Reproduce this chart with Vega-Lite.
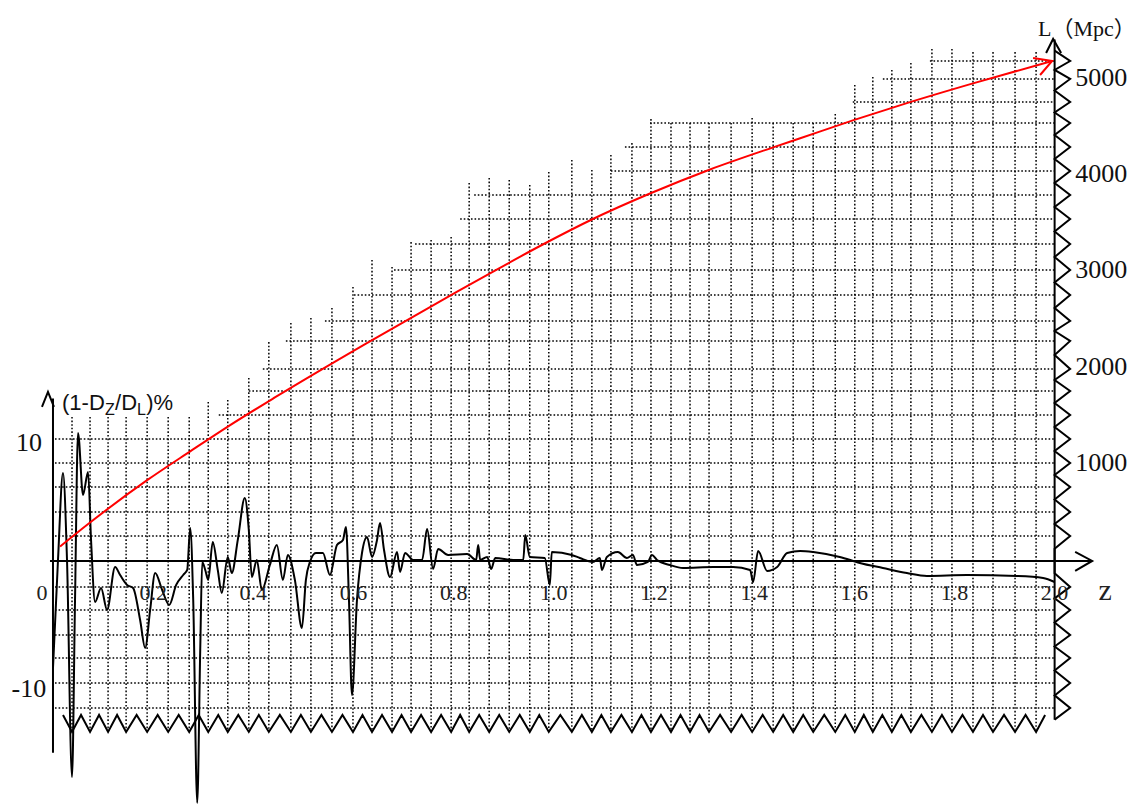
{
"$schema": "https://vega.github.io/schema/vega-lite/v6.json",
"width": 1135, "height": 804, "autosize": "none", "padding": 0,
"background": "white",
"config": {"view": {"stroke": null}},
"datasets": {
"vgrid": [{"z":0.038,"top":11.71},{"z":0.074,"top":11.71},{"z":0.110,"top":11.71},{"z":0.146,"top":11.71},{"z":0.188,"top":11.71},{"z":0.230,"top":11.71},{"z":0.272,"top":11.71},{"z":0.310,"top":12.93},{"z":0.349,"top":13.09},{"z":0.391,"top":14.88},{"z":0.431,"top":17.80},{"z":0.475,"top":19.35},{"z":0.515,"top":19.76},{"z":0.557,"top":20.57},{"z":0.599,"top":22.28},{"z":0.637,"top":24.47},{"z":0.677,"top":23.90},{"z":0.715,"top":25.93},{"z":0.755,"top":26.10},{"z":0.795,"top":26.34},{"z":0.831,"top":30.73},{"z":0.871,"top":31.14},{"z":0.911,"top":30.98},{"z":0.952,"top":30.57},{"z":0.990,"top":31.63},{"z":1.036,"top":32.60},{"z":1.076,"top":31.79},{"z":1.114,"top":33.01},{"z":1.156,"top":33.98},{"z":1.194,"top":35.93},{"z":1.234,"top":35.61},{"z":1.272,"top":35.61},{"z":1.310,"top":35.61},{"z":1.354,"top":35.61},{"z":1.396,"top":36.02},{"z":1.438,"top":35.61},{"z":1.478,"top":35.61},{"z":1.518,"top":35.61},{"z":1.562,"top":36.34},{"z":1.601,"top":38.70},{"z":1.637,"top":39.35},{"z":1.675,"top":39.92},{"z":1.713,"top":40.49},{"z":1.755,"top":41.63},{"z":1.795,"top":41.63},{"z":1.837,"top":41.38},{"z":1.877,"top":41.38},{"z":1.921,"top":41.38},{"z":1.963,"top":41.38}],
"hgrid": [{"z":1.751,"v":40.65},{"z":1.657,"v":39.19},{"z":1.597,"v":37.32},{"z":1.192,"v":35.61},{"z":1.142,"v":33.66},{"z":1.114,"v":31.71},{"z":0.841,"v":29.76},{"z":0.813,"v":27.80},{"z":0.723,"v":25.77},{"z":0.681,"v":23.66},{"z":0.601,"v":21.63},{"z":0.543,"v":19.51},{"z":0.465,"v":17.89},{"z":0.419,"v":15.61},{"z":0.391,"v":13.82},{"z":0.331,"v":11.87},{"z":0.004,"v":9.92},{"z":0.004,"v":7.97},{"z":0.004,"v":6.02},{"z":0.004,"v":3.98},{"z":0.004,"v":2.03},{"z":0.004,"v":-2.11},{"z":0.004,"v":-3.98},{"z":0.004,"v":-6.02},{"z":0.004,"v":-7.89},{"z":0.004,"v":-9.92},{"z":0.004,"v":-11.95}],
"zigB": [{"z":0.020,"v":-12.52},{"z":0.038,"v":-13.9},{"z":0.056,"v":-12.52},{"z":0.074,"v":-13.9},{"z":0.092,"v":-12.52},{"z":0.110,"v":-13.9},{"z":0.128,"v":-12.52},{"z":0.146,"v":-13.9},{"z":0.167,"v":-12.52},{"z":0.188,"v":-13.9},{"z":0.209,"v":-12.52},{"z":0.230,"v":-13.9},{"z":0.251,"v":-12.52},{"z":0.272,"v":-13.9},{"z":0.291,"v":-12.52},{"z":0.310,"v":-13.9},{"z":0.330,"v":-12.52},{"z":0.349,"v":-13.9},{"z":0.370,"v":-12.52},{"z":0.391,"v":-13.9},{"z":0.411,"v":-12.52},{"z":0.431,"v":-13.9},{"z":0.453,"v":-12.52},{"z":0.475,"v":-13.9},{"z":0.495,"v":-12.52},{"z":0.515,"v":-13.9},{"z":0.536,"v":-12.52},{"z":0.557,"v":-13.9},{"z":0.578,"v":-12.52},{"z":0.599,"v":-13.9},{"z":0.618,"v":-12.52},{"z":0.637,"v":-13.9},{"z":0.657,"v":-12.52},{"z":0.677,"v":-13.9},{"z":0.696,"v":-12.52},{"z":0.715,"v":-13.9},{"z":0.735,"v":-12.52},{"z":0.755,"v":-13.9},{"z":0.775,"v":-12.52},{"z":0.795,"v":-13.9},{"z":0.813,"v":-12.52},{"z":0.831,"v":-13.9},{"z":0.851,"v":-12.52},{"z":0.871,"v":-13.9},{"z":0.891,"v":-12.52},{"z":0.911,"v":-13.9},{"z":0.932,"v":-12.52},{"z":0.952,"v":-13.9},{"z":0.971,"v":-12.52},{"z":0.990,"v":-13.9},{"z":1.013,"v":-12.52},{"z":1.036,"v":-13.9},{"z":1.056,"v":-12.52},{"z":1.076,"v":-13.9},{"z":1.095,"v":-12.52},{"z":1.114,"v":-13.9},{"z":1.135,"v":-12.52},{"z":1.156,"v":-13.9},{"z":1.175,"v":-12.52},{"z":1.194,"v":-13.9},{"z":1.214,"v":-12.52},{"z":1.234,"v":-13.9},{"z":1.253,"v":-12.52},{"z":1.272,"v":-13.9},{"z":1.291,"v":-12.52},{"z":1.310,"v":-13.9},{"z":1.332,"v":-12.52},{"z":1.354,"v":-13.9},{"z":1.375,"v":-12.52},{"z":1.396,"v":-13.9},{"z":1.417,"v":-12.52},{"z":1.438,"v":-13.9},{"z":1.458,"v":-12.52},{"z":1.478,"v":-13.9},{"z":1.498,"v":-12.52},{"z":1.518,"v":-13.9},{"z":1.540,"v":-12.52},{"z":1.562,"v":-13.9},{"z":1.582,"v":-12.52},{"z":1.601,"v":-13.9},{"z":1.619,"v":-12.52},{"z":1.637,"v":-13.9},{"z":1.656,"v":-12.52},{"z":1.675,"v":-13.9},{"z":1.694,"v":-12.52},{"z":1.713,"v":-13.9},{"z":1.734,"v":-12.52},{"z":1.755,"v":-13.9},{"z":1.775,"v":-12.52},{"z":1.795,"v":-13.9},{"z":1.816,"v":-12.52},{"z":1.837,"v":-13.9},{"z":1.857,"v":-12.52},{"z":1.877,"v":-13.9},{"z":1.899,"v":-12.52},{"z":1.921,"v":-13.9},{"z":1.942,"v":-12.52},{"z":1.963,"v":-13.9},{"z":1.981,"v":-12.52}],
"zigR": [{"i":1,"z":2.0,"v":41.5},{"i":2,"z":2.031,"v":40.65},{"i":3,"z":2.0,"v":39.92},{"i":4,"z":2.031,"v":39.19},{"i":5,"z":2.0,"v":38.25},{"i":6,"z":2.031,"v":37.32},{"i":7,"z":2.0,"v":36.46},{"i":8,"z":2.031,"v":35.61},{"i":9,"z":2.0,"v":34.63},{"i":10,"z":2.031,"v":33.66},{"i":11,"z":2.0,"v":32.68},{"i":12,"z":2.031,"v":31.71},{"i":13,"z":2.0,"v":30.73},{"i":14,"z":2.031,"v":29.76},{"i":15,"z":2.0,"v":28.78},{"i":16,"z":2.031,"v":27.8},{"i":17,"z":2.0,"v":26.78},{"i":18,"z":2.031,"v":25.77},{"i":19,"z":2.0,"v":24.71},{"i":20,"z":2.031,"v":23.66},{"i":21,"z":2.0,"v":22.64},{"i":22,"z":2.031,"v":21.63},{"i":23,"z":2.0,"v":20.57},{"i":24,"z":2.031,"v":19.51},{"i":25,"z":2.0,"v":18.7},{"i":26,"z":2.031,"v":17.89},{"i":27,"z":2.0,"v":16.75},{"i":28,"z":2.031,"v":15.61},{"i":29,"z":2.0,"v":14.71},{"i":30,"z":2.031,"v":13.82},{"i":31,"z":2.0,"v":12.84},{"i":32,"z":2.031,"v":11.87},{"i":33,"z":2.0,"v":10.89},{"i":34,"z":2.031,"v":9.92},{"i":35,"z":2.0,"v":8.94},{"i":36,"z":2.031,"v":7.97},{"i":37,"z":2.0,"v":6.99},{"i":38,"z":2.031,"v":6.02},{"i":39,"z":2.0,"v":5.0},{"i":40,"z":2.031,"v":3.98},{"i":41,"z":2.0,"v":3.0},{"i":42,"z":2.031,"v":2.03},{"i":43,"z":2.0,"v":1.0},{"i":44,"z":2.0,"v":-1.0},{"i":45,"z":2.031,"v":-2.11},{"i":46,"z":2.0,"v":-3.04},{"i":47,"z":2.031,"v":-3.98},{"i":48,"z":2.0,"v":-5.0},{"i":49,"z":2.031,"v":-6.02},{"i":50,"z":2.0,"v":-6.95},{"i":51,"z":2.031,"v":-7.89},{"i":52,"z":2.0,"v":-8.9},{"i":53,"z":2.031,"v":-9.92},{"i":54,"z":2.0,"v":-10.93},{"i":55,"z":2.031,"v":-11.95},{"i":56,"z":2.0,"v":-12.9}],
"axes": [{"z":0,"v":13.2,"z2":0,"v2":-15.6},{"z":-0.006,"v":0,"z2":2.075,"v2":0},{"z":2.0,"v":42.4,"z2":2.0,"v2":-12.9}],
"arrows": [{"id":"l","i":1,"z":-0.022,"v":12.52},{"id":"l","i":2,"z":-0.010,"v":13.74},{"id":"l","i":3,"z":0.002,"v":12.52},{"id":"r","i":1,"z":1.983,"v":41.3},{"id":"r","i":2,"z":1.997,"v":42.44},{"id":"r","i":3,"z":2.013,"v":41.3},{"id":"x","i":1,"z":2.041,"v":0.73},{"id":"x","i":2,"z":2.075,"v":0},{"id":"x","i":3,"z":2.041,"v":-0.81}],
"curve": [{"z":0,"v":-8.7},{"z":0.01,"v":0.08},{"z":0.02,"v":7.15},{"z":0.028,"v":0.08},{"z":0.038,"v":-17.56},{"z":0.044,"v":-3.17},{"z":0.05,"v":10.41},{"z":0.06,"v":5.37},{"z":0.07,"v":7.24},{"z":0.076,"v":1.71},{"z":0.084,"v":-3.33},{"z":0.096,"v":-2.2},{"z":0.108,"v":-3.98},{"z":0.124,"v":-0.49},{"z":0.134,"v":-1.14},{"z":0.148,"v":-1.95},{"z":0.16,"v":-2.2},{"z":0.174,"v":-4.8},{"z":0.184,"v":-7.07},{"z":0.194,"v":-3.98},{"z":0.204,"v":-0.98},{"z":0.218,"v":-2.36},{"z":0.232,"v":-3.58},{"z":0.246,"v":-1.95},{"z":0.26,"v":-1.14},{"z":0.268,"v":-0.73},{"z":0.274,"v":2.68},{"z":0.28,"v":-3.17},{"z":0.288,"v":-19.67},{"z":0.294,"v":-7.24},{"z":0.298,"v":-0.08},{"z":0.304,"v":-0.73},{"z":0.31,"v":-1.54},{"z":0.319,"v":1.54},{"z":0.329,"v":-0.73},{"z":0.337,"v":-2.6},{"z":0.349,"v":0.33},{"z":0.357,"v":-0.98},{"z":0.369,"v":1.71},{"z":0.383,"v":5.12},{"z":0.391,"v":2.52},{"z":0.397,"v":-1.3},{"z":0.407,"v":0.08},{"z":0.417,"v":-2.36},{"z":0.433,"v":-0.33},{"z":0.447,"v":1.3},{"z":0.459,"v":-1.54},{"z":0.469,"v":0.49},{"z":0.483,"v":-1.54},{"z":0.497,"v":-5.45},{"z":0.505,"v":-1.54},{"z":0.513,"v":-0.08},{"z":0.525,"v":0.65},{"z":0.539,"v":0.65},{"z":0.553,"v":-1.14},{"z":0.567,"v":1.3},{"z":0.579,"v":1.71},{"z":0.585,"v":2.76},{"z":0.591,"v":-3.17},{"z":0.597,"v":-10.89},{"z":0.607,"v":-3.17},{"z":0.617,"v":0.65},{"z":0.627,"v":1.95},{"z":0.637,"v":0.33},{"z":0.647,"v":1.71},{"z":0.653,"v":3.09},{"z":0.661,"v":0.89},{"z":0.673,"v":-1.3},{"z":0.687,"v":0.73},{"z":0.693,"v":-0.89},{"z":0.703,"v":0.65},{"z":0.719,"v":0.08},{"z":0.737,"v":0.08},{"z":0.747,"v":2.6},{"z":0.759,"v":-0.65},{"z":0.769,"v":0.98},{"z":0.789,"v":0.49},{"z":0.827,"v":0.57},{"z":0.845,"v":0.08},{"z":0.849,"v":1.3},{"z":0.853,"v":0.08},{"z":0.867,"v":0.33},{"z":0.875,"v":-0.65},{"z":0.883,"v":0.24},{"z":0.919,"v":0.08},{"z":0.939,"v":0.08},{"z":0.943,"v":2.11},{"z":0.952,"v":0.33},{"z":0.982,"v":0.24},{"z":0.992,"v":-1.95},{"z":0.996,"v":0.73},{"z":1.036,"v":0.49},{"z":1.052,"v":0.24},{"z":1.078,"v":-0.08},{"z":1.092,"v":0.24},{"z":1.096,"v":-0.73},{"z":1.106,"v":0.33},{"z":1.128,"v":0.73},{"z":1.146,"v":0.24},{"z":1.158,"v":0.49},{"z":1.166,"v":-0.33},{"z":1.188,"v":-0.08},{"z":1.196,"v":0.49},{"z":1.206,"v":0.08},{"z":1.232,"v":-0.33},{"z":1.258,"v":-0.57},{"z":1.318,"v":-0.49},{"z":1.358,"v":-0.49},{"z":1.392,"v":-0.73},{"z":1.398,"v":-1.71},{"z":1.408,"v":0.81},{"z":1.426,"v":-0.81},{"z":1.446,"v":-0.49},{"z":1.466,"v":0.65},{"z":1.492,"v":0.81},{"z":1.518,"v":0.73},{"z":1.571,"v":0.33},{"z":1.611,"v":-0.16},{"z":1.657,"v":-0.57},{"z":1.705,"v":-0.98},{"z":1.745,"v":-1.22},{"z":1.825,"v":-1.14},{"z":1.925,"v":-1.22},{"z":1.977,"v":-1.38},{"z":2.0,"v":-1.71}],
"red": [{"z":0.014,"L":150},{"z":0.074,"L":400},{"z":0.188,"L":840},{"z":0.274,"L":1140},{"z":0.353,"L":1410},{"z":0.443,"L":1700},{"z":0.625,"L":2260},{"z":0.807,"L":2800},{"z":0.869,"L":2980},{"z":0.978,"L":3290},{"z":1.076,"L":3550},{"z":1.192,"L":3820},{"z":1.312,"L":4070},{"z":1.438,"L":4300},{"z":1.492,"L":4395},{"z":1.597,"L":4580},{"z":1.705,"L":4760},{"z":1.837,"L":4965},{"z":1.995,"L":5198}],
"redArrow": [{"i":1,"z":1.957,"L":5229},{"i":2,"z":1.995,"L":5198},{"i":3,"z":1.971,"L":5052}],
"xlab": [{"z":0.2,"label":"0.2"},{"z":0.4,"label":"0.4"},{"z":0.6,"label":"0.6"},{"z":0.8,"label":"0.8"},{"z":1.0,"label":"1.0"},{"z":1.2,"label":"1.2"},{"z":1.4,"label":"1.4"},{"z":1.6,"label":"1.6"},{"z":1.8,"label":"1.8"},{"z":2.0,"label":"2.0"}],
"origin": [{"z":0,"label":"0"}],
"ylab": [{"v":10,"label":"10"},{"v":-10,"label":"-10"}],
"rlab": [{"L":1000,"label":"1000"},{"L":2000,"label":"2000"},{"L":3000,"label":"3000"},{"L":4000,"label":"4000"},{"L":5000,"label":"5000"}],
"tmain": [{"z":0.018,"v":12.28,"label":"(1-D"},{"z":0.124,"v":12.28,"label":"/D"},{"z":0.186,"v":12.28,"label":")%"}],
"tsub": [{"z":0.104,"v":11.87,"label":"Z"},{"z":0.168,"v":11.87,"label":"L"}]
},
"layer": [
{"data": {"name": "vgrid"}, "mark": {"type": "rule", "color": "black", "strokeWidth": 1.5, "strokeDash": [1.6, 2]},
 "encoding": {"x": {"field": "z", "type": "quantitative", "scale": {"domain": [-0.1058, 2.1605], "nice": false, "zero": false}, "axis": null}, "y": {"field": "top", "type": "quantitative", "scale": {"domain": [-19.76, 45.61], "nice": false, "zero": false}, "axis": null}, "y2": {"datum": -13.7}}},
{"data": {"name": "hgrid"}, "mark": {"type": "rule", "color": "black", "strokeWidth": 1.5, "strokeDash": [1.6, 2]},
 "encoding": {"x": {"field": "z", "type": "quantitative", "scale": {"domain": [-0.1058, 2.1605], "nice": false, "zero": false}, "axis": null}, "x2": {"datum": 2.0}, "y": {"field": "v", "type": "quantitative", "scale": {"domain": [-19.76, 45.61], "nice": false, "zero": false}, "axis": null}}},
{"data": {"name": "zigB"}, "mark": {"type": "line", "color": "black", "strokeWidth": 2},
 "encoding": {"x": {"field": "z", "type": "quantitative", "scale": {"domain": [-0.1058, 2.1605], "nice": false, "zero": false}, "axis": null}, "y": {"field": "v", "type": "quantitative", "scale": {"domain": [-19.76, 45.61], "nice": false, "zero": false}, "axis": null}}},
{"data": {"name": "zigR"}, "mark": {"type": "line", "color": "black", "strokeWidth": 2},
 "encoding": {"x": {"field": "z", "type": "quantitative", "scale": {"domain": [-0.1058, 2.1605], "nice": false, "zero": false}, "axis": null}, "y": {"field": "v", "type": "quantitative", "scale": {"domain": [-19.76, 45.61], "nice": false, "zero": false}, "axis": null}, "order": {"field": "i", "type": "quantitative"}}},
{"data": {"name": "axes"}, "mark": {"type": "rule", "color": "black", "strokeWidth": 2},
 "encoding": {"x": {"field": "z", "type": "quantitative", "scale": {"domain": [-0.1058, 2.1605], "nice": false, "zero": false}, "axis": null}, "x2": {"field": "z2"}, "y": {"field": "v", "type": "quantitative", "scale": {"domain": [-19.76, 45.61], "nice": false, "zero": false}, "axis": null}, "y2": {"field": "v2"}}},
{"data": {"name": "arrows"}, "mark": {"type": "line", "color": "black", "strokeWidth": 2},
 "encoding": {"x": {"field": "z", "type": "quantitative", "scale": {"domain": [-0.1058, 2.1605], "nice": false, "zero": false}, "axis": null}, "y": {"field": "v", "type": "quantitative", "scale": {"domain": [-19.76, 45.61], "nice": false, "zero": false}, "axis": null}, "detail": {"field": "id"}, "order": {"field": "i", "type": "quantitative"}}},
{"data": {"name": "curve"}, "mark": {"type": "line", "color": "black", "strokeWidth": 2, "interpolate": "monotone"},
 "encoding": {"x": {"field": "z", "type": "quantitative", "scale": {"domain": [-0.1058, 2.1605], "nice": false, "zero": false}, "axis": null}, "y": {"field": "v", "type": "quantitative", "scale": {"domain": [-19.76, 45.61], "nice": false, "zero": false}, "axis": null}}},
{"data": {"name": "red"}, "mark": {"type": "line", "color": "#ff0000", "strokeWidth": 2, "interpolate": "monotone"},
 "encoding": {"x": {"field": "z", "type": "quantitative", "scale": {"domain": [-0.1058, 2.1605], "nice": false, "zero": false}, "axis": null}, "y": {"field": "L", "type": "quantitative", "scale": {"domain": [-2526, 5831.6], "nice": false, "zero": false}, "axis": null}}},
{"data": {"name": "redArrow"}, "mark": {"type": "line", "color": "#ff0000", "strokeWidth": 2},
 "encoding": {"x": {"field": "z", "type": "quantitative", "scale": {"domain": [-0.1058, 2.1605], "nice": false, "zero": false}, "axis": null}, "y": {"field": "L", "type": "quantitative", "scale": {"domain": [-2526, 5831.6], "nice": false, "zero": false}, "axis": null}, "order": {"field": "i", "type": "quantitative"}}},
{"data": {"name": "xlab"}, "mark": {"type": "text", "font": "Liberation Serif", "fontSize": 22, "color": "#222", "align": "center", "baseline": "alphabetic"},
 "encoding": {"x": {"field": "z", "type": "quantitative", "scale": {"domain": [-0.1058, 2.1605], "nice": false, "zero": false}, "axis": null}, "y": {"datum": -3.17, "type": "quantitative", "scale": {"domain": [-19.76, 45.61], "nice": false, "zero": false}, "axis": null}, "text": {"field": "label"}}},
{"data": {"name": "origin"}, "mark": {"type": "text", "font": "Liberation Serif", "fontSize": 22, "color": "#222", "align": "center", "baseline": "alphabetic", "dx": -11},
 "encoding": {"x": {"field": "z", "type": "quantitative", "scale": {"domain": [-0.1058, 2.1605], "nice": false, "zero": false}, "axis": null}, "y": {"datum": -3.17, "type": "quantitative", "scale": {"domain": [-19.76, 45.61], "nice": false, "zero": false}, "axis": null}, "text": {"field": "label"}}},
{"data": {"values": [{"label": "z"}]}, "mark": {"type": "text", "font": "Liberation Serif", "fontSize": 30, "color": "#222", "align": "center", "baseline": "alphabetic"},
 "encoding": {"x": {"datum": 2.101, "type": "quantitative", "scale": {"domain": [-0.1058, 2.1605], "nice": false, "zero": false}, "axis": null}, "y": {"datum": -3.17, "type": "quantitative", "scale": {"domain": [-19.76, 45.61], "nice": false, "zero": false}, "axis": null}, "text": {"field": "label"}}},
{"data": {"name": "ylab"}, "mark": {"type": "text", "font": "Liberation Serif", "fontSize": 26, "color": "#111", "align": "center", "baseline": "middle", "dy": 5},
 "encoding": {"x": {"datum": -0.048, "type": "quantitative", "scale": {"domain": [-0.1058, 2.1605], "nice": false, "zero": false}, "axis": null}, "y": {"field": "v", "type": "quantitative", "scale": {"domain": [-19.76, 45.61], "nice": false, "zero": false}, "axis": null}, "text": {"field": "label"}}},
{"data": {"name": "tmain"}, "mark": {"type": "text", "font": "Liberation Sans", "fontSize": 22, "color": "#111", "align": "left", "baseline": "alphabetic"},
 "encoding": {"x": {"field": "z", "type": "quantitative", "scale": {"domain": [-0.1058, 2.1605], "nice": false, "zero": false}, "axis": null}, "y": {"field": "v", "type": "quantitative", "scale": {"domain": [-19.76, 45.61], "nice": false, "zero": false}, "axis": null}, "text": {"field": "label"}}},
{"data": {"name": "tsub"}, "mark": {"type": "text", "font": "Liberation Sans", "fontSize": 16, "color": "#111", "align": "left", "baseline": "alphabetic"},
 "encoding": {"x": {"field": "z", "type": "quantitative", "scale": {"domain": [-0.1058, 2.1605], "nice": false, "zero": false}, "axis": null}, "y": {"field": "v", "type": "quantitative", "scale": {"domain": [-19.76, 45.61], "nice": false, "zero": false}, "axis": null}, "text": {"field": "label"}}},
{"data": {"name": "rlab"}, "mark": {"type": "text", "font": "Liberation Serif", "fontSize": 26, "color": "#111", "align": "left", "baseline": "middle", "dy": -2},
 "encoding": {"x": {"datum": 2.041, "type": "quantitative", "scale": {"domain": [-0.1058, 2.1605], "nice": false, "zero": false}, "axis": null}, "y": {"field": "L", "type": "quantitative", "scale": {"domain": [-2526, 5831.6], "nice": false, "zero": false}, "axis": null}, "text": {"field": "label"}}},
{"data": {"values": [{"label": "L（Mpc）"}]}, "mark": {"type": "text", "font": "Liberation Serif, Noto Sans CJK SC", "fontSize": 22, "color": "#111", "align": "left", "baseline": "alphabetic"},
 "encoding": {"x": {"datum": 1.967, "type": "quantitative", "scale": {"domain": [-0.1058, 2.1605], "nice": false, "zero": false}, "axis": null}, "y": {"datum": 5457, "type": "quantitative", "scale": {"domain": [-2526, 5831.6], "nice": false, "zero": false}, "axis": null}, "text": {"field": "label"}}}
],
"resolve": {"scale": {"y": "independent"}}
}
